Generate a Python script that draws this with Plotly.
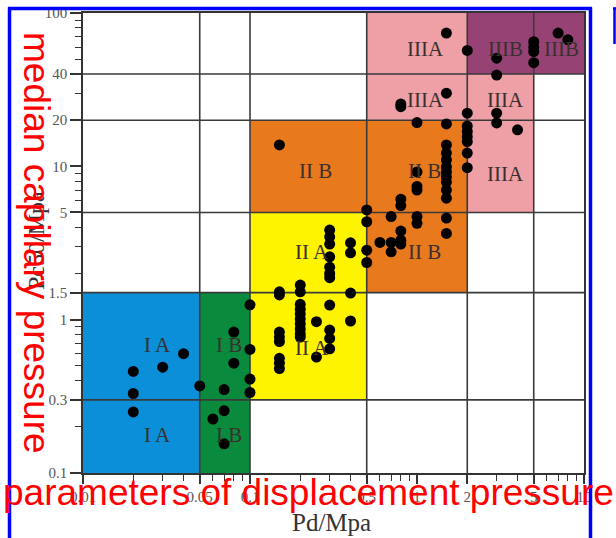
import math
import plotly.graph_objects as go

# Displacement pressure Pd (MPa) and median capillary pressure Pc50 (MPa) of each sample
pd_mpa = [
    0.02, 0.02, 0.02, 0.03, 0.04, 0.05,
    0.06, 0.07, 0.07, 0.07, 0.08, 0.08,
    0.1, 0.1, 0.1, 0.1,
    0.15, 0.15, 0.15, 0.15, 0.15, 0.15, 0.15, 0.15,
    0.2, 0.2, 0.2, 0.2, 0.2, 0.2, 0.2, 0.2, 0.2, 0.2,
    0.25, 0.25,
    0.3, 0.3, 0.3, 0.3, 0.3, 0.3, 0.3, 0.3, 0.3, 0.3, 0.3,
    0.4, 0.4, 0.4, 0.4,
    0.5, 0.5, 0.5, 0.5,
    0.15,
    0.6, 0.7, 0.7, 0.7, 0.8, 0.8, 0.8, 0.8, 0.8, 1.0, 1.0, 1.5, 1.5,
    1.0, 1.0, 1.0, 1.0,
    1.5, 1.5, 1.5, 1.5, 1.5, 1.5, 1.5, 1.5, 1.5, 1.5,
    2.0, 2.0, 2.0, 2.0, 2.0, 2.0, 2.0, 2.0,
    0.8, 0.8, 1.5, 1.5, 3.0, 3.0, 4.0, 3.0, 3.0,
    5.0, 5.0, 5.0, 5.0, 7.0, 8.0,
]
pc50_mpa = [
    0.46, 0.33, 0.25, 0.49, 0.60, 0.37,
    0.225, 0.35, 0.255, 0.155, 0.83, 0.52,
    1.25, 0.64, 0.41, 0.335,
    1.52, 1.45, 0.83, 0.77, 0.72, 0.56, 0.52, 0.48,
    1.68, 1.52, 1.26, 1.17, 1.09, 1.01, 0.94, 0.87, 0.81, 0.77,
    0.97, 0.57,
    3.84, 3.47, 3.11, 2.57, 2.2, 2.0, 1.88, 1.245, 0.855, 0.755, 0.645,
    3.17, 2.73, 1.49, 0.98,
    5.2, 4.35, 2.84, 2.36,
    13.8,
    3.19, 3.19, 2.77, 4.7, 3.78, 3.3, 3.11, 6.1, 5.55, 4.7, 4.25, 4.6, 3.65,
    9.2, 7.4, 7.0, 19.3,
    18.9, 13.8, 12.2, 11.0, 9.9, 9.2, 8.55, 7.9, 7.0, 6.2,
    18.3, 16.9, 15.6, 14.5, 12.2, 9.8, 22.2, 57.0,
    25.5, 24.5, 30.0, 74.0, 22.2, 19.2, 17.3, 50.7, 39.4,
    65.0, 60.0, 56.0, 47.4, 74.0, 67.0,
]

# Pore-structure classes: Pd range and Pc50 range of each block
zone_names = ["IA", "IB", "IIA", "IIB", "IIB", "IIIA", "IIIA", "IIIB"]
zone_pd_min = [0.01, 0.05, 0.1, 0.1, 0.5, 0.5, 2, 2]
zone_pd_max = [0.05, 0.1, 0.5, 0.5, 2, 2, 5, 10]
zone_pc_min = [0.1, 0.1, 0.3, 5, 1.5, 20, 5, 40]
zone_pc_max = [1.5, 1.5, 5, 20, 20, 100, 40, 100]

# Class boundary lines
pd_bounds = [0.05, 0.1, 0.5, 2, 5]
pc_bounds = [0.3, 1.5, 5, 20, 40]

# Tick labels
x_ticks = [0.01, 0.05, 0.1, 0.5, 1, 2, 5, 10]
x_ticklabels = ["0.01", "0.05", "0.1", "0.5", "1", "2", "5", "10"]
y_ticks = [0.1, 0.3, 1, 1.5, 5, 10, 20, 40, 100]
y_ticklabels = ["0.1", "0.3", "1", "1.5", "5", "10", "20", "40", "100"]

zone_colors = {
    "IA": "#0a8fd8",
    "IB": "#0a8a3c",
    "IIA": "#fff400",
    "IIB": "#e8791d",
    "IIIA": "#efa0a6",
    "IIIB": "#974274",
}

SERIF = "Liberation Serif"
SANS = "Liberation Sans"
GRID = "#3a3a3a"

minor_x = [k * 10 ** e for e in range(-2, 1) for k in range(2, 10)]
minor_x = [v for v in minor_x if round(v, 6) not in x_ticks]
minor_y = [k * 10 ** e for e in range(-1, 2) for k in range(2, 10)]
minor_y = [v for v in minor_y if round(v, 6) not in y_ticks]

fig = go.Figure()

fig.add_trace(go.Scatter(
    x=pd_mpa, y=pc50_mpa, mode="markers",
    marker=dict(size=11, color="black", line=dict(width=0)),
    showlegend=False, hoverinfo="x+y",
))

shapes = []
for name, x0, x1, y0, y1 in zip(zone_names, zone_pd_min, zone_pd_max, zone_pc_min, zone_pc_max):
    shapes.append(dict(type="rect", xref="x", yref="y", x0=x0, x1=x1, y0=y0, y1=y1,
                       fillcolor=zone_colors[name], line=dict(width=0), layer="below"))
for v in pd_bounds:
    shapes.append(dict(type="line", xref="x", yref="y", x0=v, x1=v, y0=0.1, y1=100,
                       line=dict(color=GRID, width=1.6), layer="below"))
for v in pc_bounds:
    shapes.append(dict(type="line", xref="x", yref="y", x0=0.01, x1=10, y0=v, y1=v,
                       line=dict(color=GRID, width=1.6), layer="below"))

# Blue frame around the figure
L, R, T, B = 83, 584, 13, 473


def px(xp):
    return (xp - L) / (R - L)


def py(yp):
    return (B - yp) / (B - T)


blue = dict(color="#0000ff", width=3.5)
shapes += [
    dict(type="line", xref="paper", yref="paper", x0=px(9.5), x1=px(9.5), y0=py(7.5), y1=py(545), line=blue),
    dict(type="line", xref="paper", yref="paper", x0=px(8), x1=px(592), y0=py(8.5), y1=py(8.5), line=blue),
    dict(type="line", xref="paper", yref="paper", x0=px(590.5), x1=px(590.5), y0=py(7.5), y1=py(545), line=blue),
    dict(type="line", xref="paper", yref="paper", x0=px(614.5), x1=px(614.5), y0=py(7.5), y1=py(44), line=dict(color="#0000ff", width=2.5)),
    dict(type="line", xref="paper", yref="paper", x0=px(613), x1=px(620), y0=py(8.5), y1=py(8.5), line=dict(color="#0000ff", width=2.5)),
]

# Class labels (positions in log10 units)
zone_labels = [
    ("I A", -1.554, -0.162), ("I A", -1.554, -0.750),
    ("I B", -1.123, -0.162), ("I B", -1.123, -0.750),
    ("II A", -0.629, 0.441), ("II A", -0.629, -0.182),
    ("II B", -0.605, 0.969), ("II B", 0.042, 0.969), ("II B", 0.042, 0.441),
    ("IIIA", 0.048, 1.762), ("IIIA", 0.048, 1.432),
    ("IIIA", 0.530, 1.432), ("IIIA", 0.530, 0.953),
    ("IIIB", 0.530, 1.762), ("IIIB", 0.868, 1.762),
]
annotations = [
    dict(text=t, x=xl, y=yl, xref="x", yref="y", showarrow=False,
         font=dict(family=SERIF, size=21, color="#3b3030"))
    for t, xl, yl in zone_labels
]

# Axis titles
annotations += [
    dict(text="Pd/Mpa", x=px(331), y=py(522), xref="paper", yref="paper", showarrow=False,
         xanchor="center", yanchor="middle", font=dict(family=SERIF, size=25, color="#333")),
    dict(text="Pc50/Mpa", x=px(36), y=py(241), xref="paper", yref="paper", showarrow=False,
         textangle=-90, xanchor="center", yanchor="middle", font=dict(family=SERIF, size=24, color="#333")),
]

# Red captions
annotations += [
    dict(text="median capillary pressure", x=px(37), y=py(243), xref="paper", yref="paper",
         showarrow=False, textangle=90, xanchor="center", yanchor="middle",
         font=dict(family=SANS, size=37, color="#ff0000")),
    dict(text="parameters of displacement pressure", x=px(308.5), y=py(492), xref="paper", yref="paper",
         showarrow=False, xanchor="center", yanchor="middle",
         font=dict(family=SANS, size=37, color="#ff0000")),
]

fig.update_layout(
    width=616, height=538,
    margin=dict(l=L, r=616 - R, t=T, b=538 - B, pad=0, autoexpand=False),
    paper_bgcolor="white", plot_bgcolor="white",
    shapes=shapes, annotations=annotations,
    xaxis=dict(
        type="log", range=[-2, 1], showgrid=False, zeroline=False, automargin=False,
        tickvals=x_ticks, ticktext=x_ticklabels, ticks="outside", ticklen=9, tickwidth=1.5,
        tickcolor="#333", showline=True, linecolor="#333", linewidth=1.5, mirror=True,
        tickfont=dict(family=SERIF, size=15, color="#555"),
        minor=dict(tickvals=minor_x, ticks="outside", ticklen=6, tickwidth=1.3, tickcolor="#333"),
    ),
    yaxis=dict(
        type="log", range=[-1, 2], showgrid=False, zeroline=False, automargin=False,
        tickvals=y_ticks, ticktext=y_ticklabels, ticks="outside", ticklen=11, tickwidth=1.5,
        tickcolor="#333", showline=True, linecolor="#333", linewidth=1.5, mirror=True,
        tickfont=dict(family=SERIF, size=15, color="#555"),
        minor=dict(tickvals=minor_y, ticks="outside", ticklen=6, tickwidth=1.3, tickcolor="#333"),
    ),
)

fig.write_html("out.html")
